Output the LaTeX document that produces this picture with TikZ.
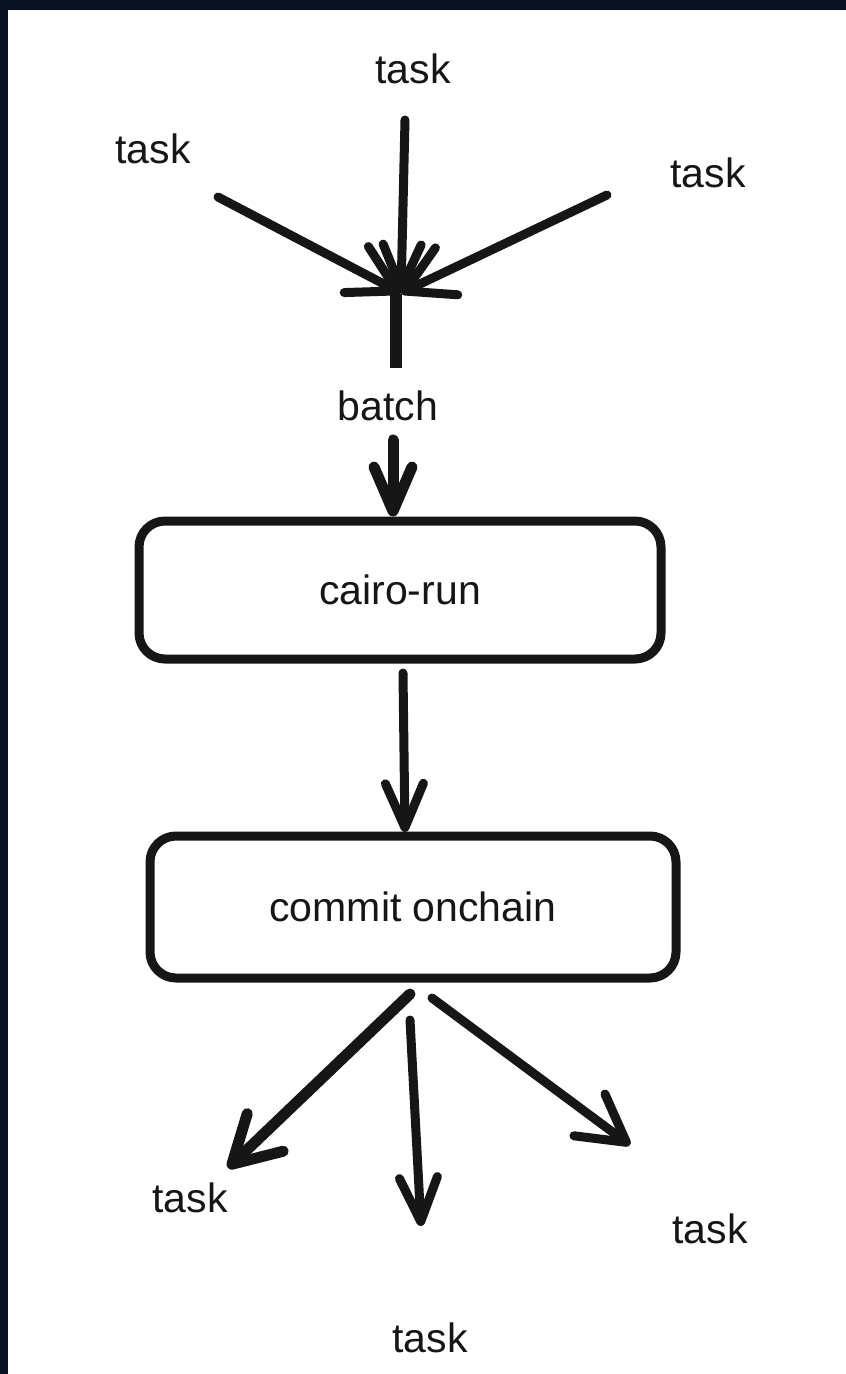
\documentclass[tikz,border=0pt]{standalone}
\usepackage{fontspec}
\setmainfont{Liberation Sans}
\usetikzlibrary{arrows.meta}
\definecolor{frame}{HTML}{0A1224}
\definecolor{ink}{HTML}{161616}

\begin{document}
\begin{tikzpicture}[x=1pt,y=-1pt,
  lbl/.style={font=\fontsize{41}{49}\selectfont, text=ink, inner sep=0pt, anchor=base},
  stepbox/.style={draw=ink, line width=9pt, rounded corners=26pt, fill=white,
                  font=\fontsize{41}{49}\selectfont, text=ink, inner sep=0pt},
  flow/.style={draw=ink, line width=9pt, line cap=round,
               -{Straight Barb[length=46pt,width=52pt,line cap=round,line join=round]}},
  narrowflow/.style={flow,
               -{Straight Barb[length=44pt,width=38pt,line cap=round,line join=round]}},
  stub/.style={draw=ink, line width=12pt}
]
% page and frame
\fill[frame] (0,0) rectangle (846,1374);
\fill[white] (8,10) rectangle (846,1374);
\useasboundingbox (0,0) rectangle (846,1374);

% incoming tasks
\node[lbl] (inTop)   at (413,83)  {task};
\node[lbl] (inLeft)  at (153,163) {task};
\node[lbl] (inRight) at (708,187) {task};

\coordinate (srcTop)   at (405,120);
\coordinate (srcLeft)  at (218,197);
\coordinate (srcRight) at (607,195);
\coordinate (merge)    at (401,293);

\draw[narrowflow] (srcTop) -- (merge);
\draw[flow] (srcLeft)  -- (merge);
\draw[flow] (srcRight) -- (merge);

% batch stub
\coordinate (stubTop) at (396,294);
\coordinate (stubEnd) at (396,368);
\draw[stub] (stubTop) -- (stubEnd);
\node[lbl] (batch) at (388,420) {batch};

% processing boxes
\node[stepbox, minimum width=522pt, minimum height=138pt] (run) at (400,590) {cairo-run};
\node[stepbox, minimum width=526pt, minimum height=142pt] (commit) at (413,907) {commit onchain};

\coordinate (batchOut) at (393,440);
\draw[narrowflow, line width=11pt] (batchOut) -- (batchOut |- run.north);

\coordinate (runOut) at (403,673);
\coordinate (commitIn) at (405,832);
\draw[narrowflow] (runOut) -- (commitIn);

% outgoing tasks
\coordinate (outL) at (410,994);
\coordinate (outM) at (410,1020);
\coordinate (outR) at (432,998);
\coordinate (tipL) at (228,1168);
\coordinate (tipM) at (421,1226);
\coordinate (tipR) at (630,1145);

\draw[flow, line width=11pt] (outL) -- (tipL);
\draw[narrowflow] (outM) -- (tipM);
\draw[flow] (outR) -- (tipR);

\node[lbl] (outTaskL) at (190,1212) {task};
\node[lbl] (outTaskM) at (430,1352) {task};
\node[lbl] (outTaskR) at (710,1243) {task};
\end{tikzpicture}
\end{document}
